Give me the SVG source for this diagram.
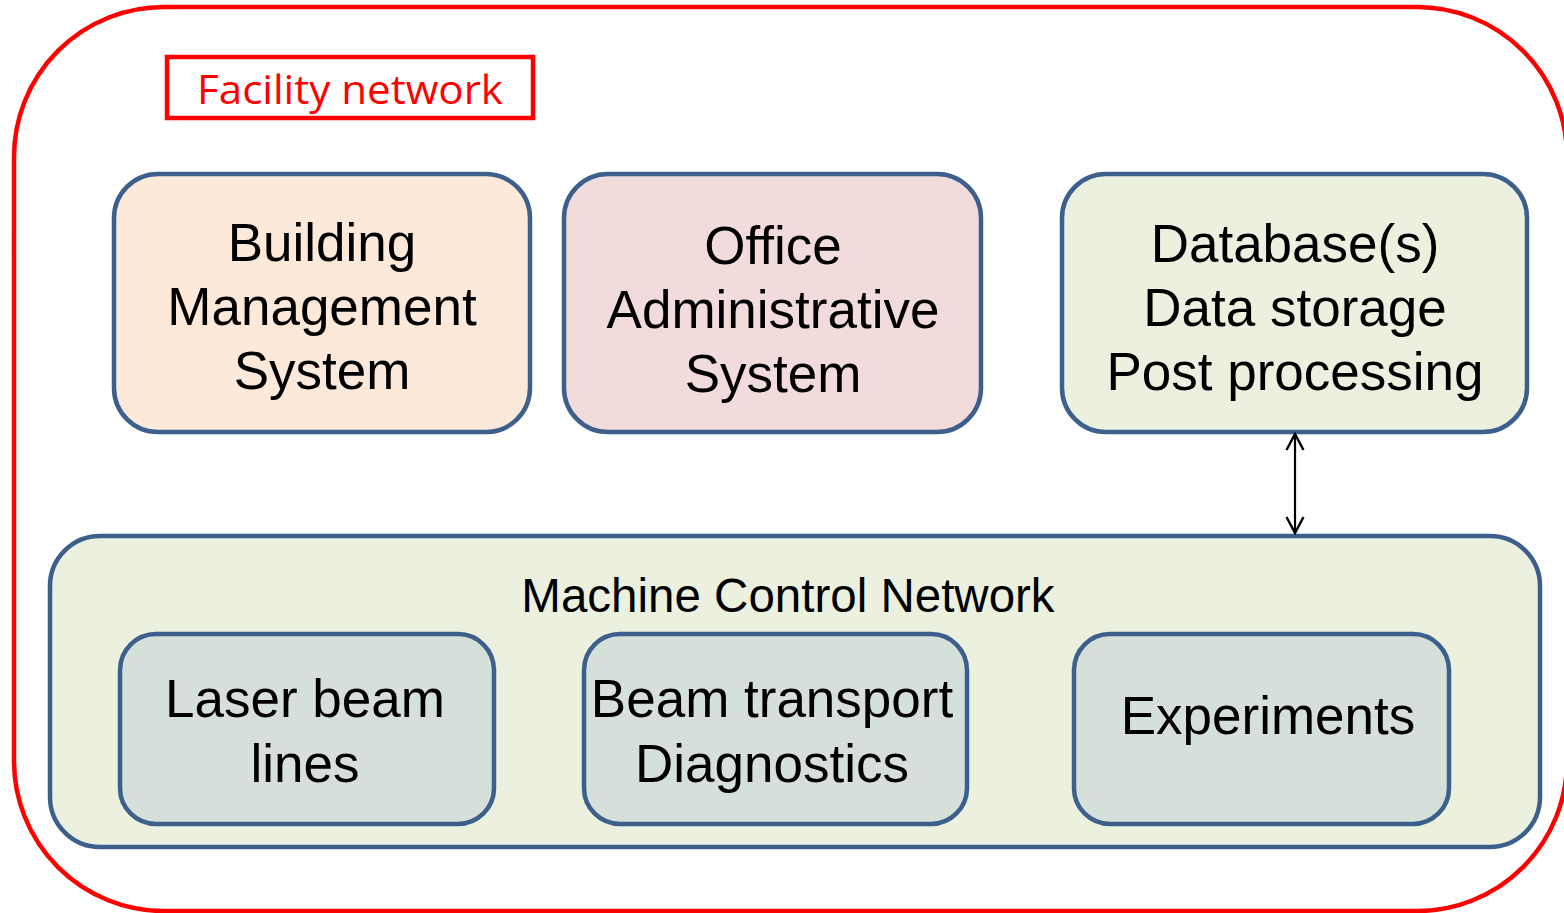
<svg xmlns="http://www.w3.org/2000/svg" width="1564" height="913" viewBox="0 0 1564 913">
<style>
.node{stroke:#3C5F8C;stroke-width:4.5}
.t{font-family:"Liberation Sans",Arial,sans-serif;font-size:53px;fill:#000;text-anchor:middle}
.s{font-family:"Liberation Sans",Arial,sans-serif;font-size:47.5px;fill:#000;text-anchor:middle}
</style>
<defs>
<marker id="open" viewBox="0 0 20 20" refX="18" refY="10" markerWidth="20" markerHeight="20" markerUnits="userSpaceOnUse" orient="auto-start-reverse">
<path d="M2,1.5 L18,10 L2,18.5" fill="none" stroke="#000" stroke-width="2.4"/>
</marker>
</defs>
<rect width="1564" height="913" fill="#fff"/>
<g id="facility">
<rect x="14" y="7" width="1553" height="904" rx="150" ry="150" fill="none" stroke="#FF0000" stroke-width="4.5"/>
<rect x="167" y="57" width="366" height="61" fill="#fff" stroke="#FF0000" stroke-width="4.5"/>
<text x="350" y="104" font-family="'Open Sans','Noto Sans',sans-serif" font-size="40" fill="#FF0000" text-anchor="middle" textLength="306" lengthAdjust="spacingAndGlyphs">Facility network</text>
</g>
<g id="bms">
<rect class="node" x="114" y="174" width="416" height="258" rx="44" fill="#FDE9D9"/>
<text class="t" x="322" y="261">Building</text>
<text class="t" x="322" y="325">Management</text>
<text class="t" x="322" y="389">System</text>
</g>
<g id="oas">
<rect class="node" x="564" y="174" width="417" height="258" rx="44" fill="#F2DCDB"/>
<text class="t" x="773" y="264">Office</text>
<text class="t" x="773" y="328">Administrative</text>
<text class="t" x="773" y="392">System</text>
</g>
<g id="db">
<rect class="node" x="1062" y="174" width="465" height="258" rx="44" fill="#EBF1DE"/>
<text class="t" x="1295" y="262">Database(s)</text>
<text class="t" x="1295" y="326">Data storage</text>
<text class="t" x="1295" y="390">Post processing</text>
</g>
<g id="mcn">
<rect class="node" x="50" y="536" width="1490" height="311" rx="50" fill="#EBF1DE"/>
<text class="s" x="788" y="612">Machine Control Network</text>
</g>
<g id="laser">
<rect class="node" x="120" y="634" width="374" height="190" rx="36" fill="#D6E0DB"/>
<text class="t" x="305" y="717">Laser beam</text>
<text class="t" x="305" y="782">lines</text>
</g>
<g id="beam">
<rect class="node" x="584" y="634" width="383" height="190" rx="36" fill="#D6E0DB"/>
<text class="t" x="772" y="717">Beam transport</text>
<text class="t" x="772" y="782">Diagnostics</text>
</g>
<g id="exp">
<rect class="node" x="1074" y="634" width="375" height="190" rx="36" fill="#D6E0DB"/>
<text class="t" x="1268" y="734">Experiments</text>
</g>
<g id="connectors">
<line x1="1295" y1="434" x2="1295" y2="533" stroke="#000" stroke-width="2.2" marker-start="url(#open)" marker-end="url(#open)"/>
</g>
</svg>
